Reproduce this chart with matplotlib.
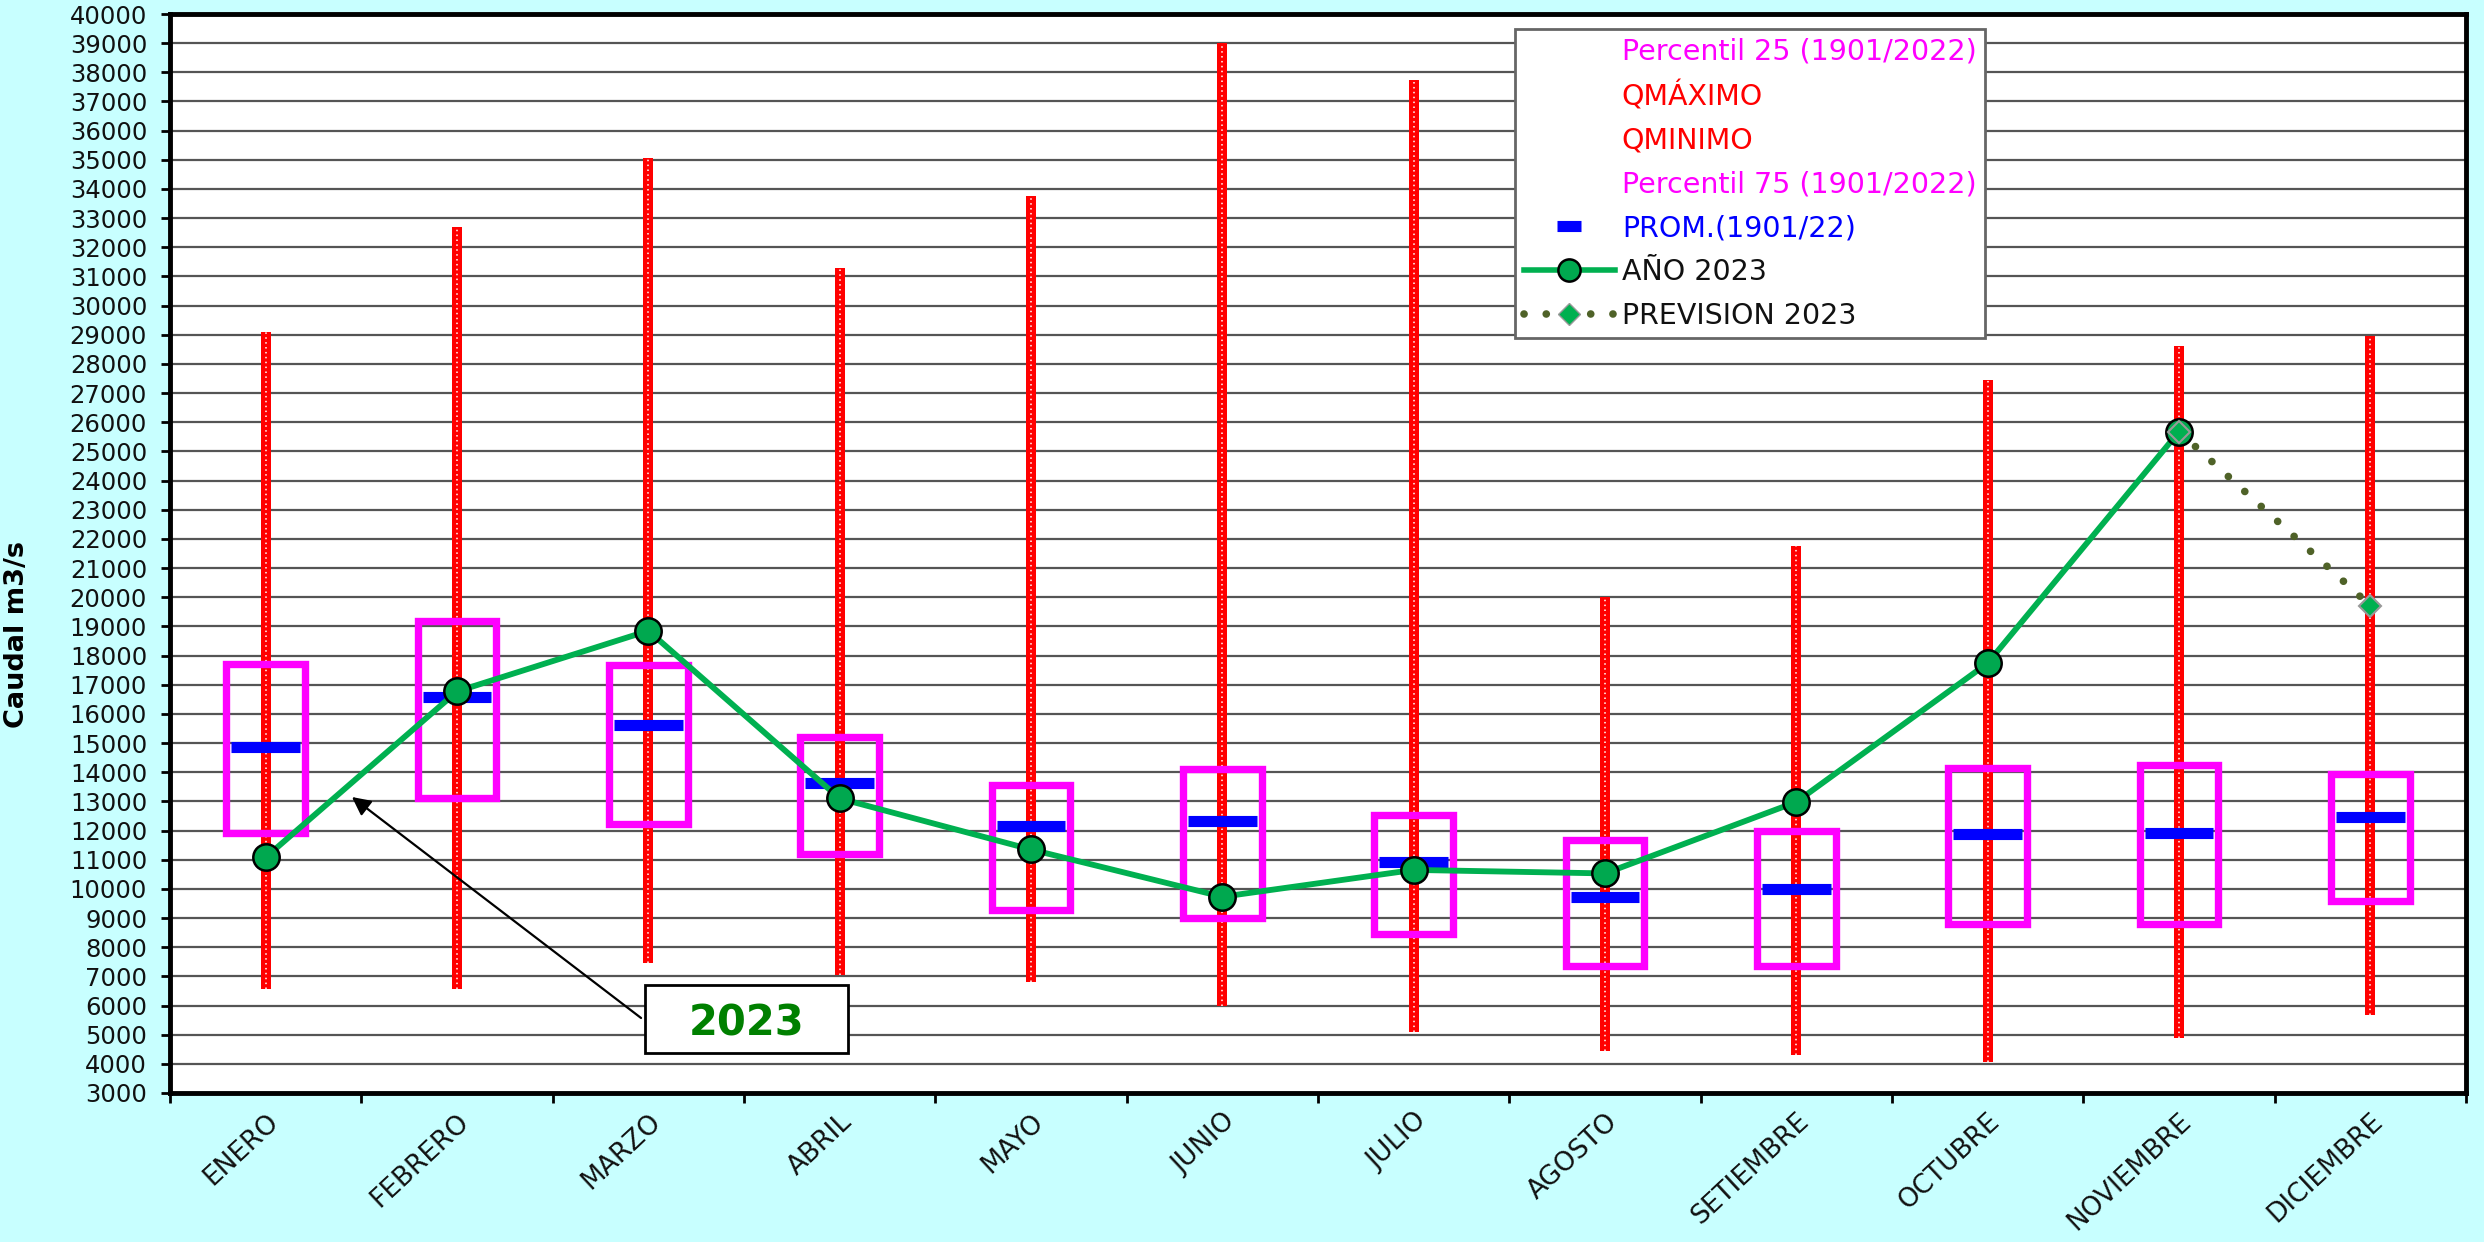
import numpy as np
import matplotlib
matplotlib.use('Agg')
import matplotlib.pyplot as plt
from matplotlib.patches import Rectangle
from matplotlib.lines import Line2D

plt.rcParams['font.family'] = ['DejaVu Sans']

# monthly flow statistics (m3/s)
meses = ['ENERO', 'FEBRERO', 'MARZO', 'ABRIL', 'MAYO', 'JUNIO', 'JULIO',
         'AGOSTO', 'SETIEMBRE', 'OCTUBRE', 'NOVIEMBRE', 'DICIEMBRE']
q_max = [29100, 32700, 35050, 31300, 33770, 38990, 37740, 20000, 21760, 27450, 28600, 28960]
q_min = [6570, 6570, 7470, 7040, 6820, 5970, 5100, 4440, 4290, 4060, 4900, 5680]
p25 = [11930, 13130, 12240, 11200, 9270, 9000, 8450, 7370, 7370, 8780, 8810, 9570]
p75 = [17720, 19180, 17660, 15200, 13560, 14100, 12520, 11690, 12000, 14130, 14240, 13940]
prom = [14860, 16590, 15630, 13640, 12170, 12330, 10920, 9710, 10000, 11880, 11900, 12450]
anio_2023 = [11080, 16770, 18850, 13100, 11350, 9730, 10650, 10530, 12980, 17740, 25680]
prev_meses = [10, 11]
prevision_2023 = [25680, 19710]

y_ticks = np.arange(3000, 40001, 1000)

bg = '#C8FFFF'
fig = plt.figure(figsize=[24.84, 12.42], dpi=100, facecolor=bg)
ax = fig.add_axes([170/2484, 1-1093/1242, (2466-170)/2484, (1093-14)/1242])
ax.set_facecolor('white')

x = np.arange(len(meses))

# horizontal grid
for yv in y_ticks[1:-1]:
    ax.axhline(yv, color='#555555', lw=1.6, zorder=1)

# max/min range bars (red with a fine white dotted core)
ax.vlines(x, q_min, q_max, color='#FF0000', lw=7.2, zorder=2)
ax.vlines(x, q_min, q_max, color='white', lw=1.1, linestyles=(0, (1, 2.2)), zorder=2.1)

# percentile boxes
bw = 0.41
for xi, lo, hi in zip(x, p25, p75):
    ax.add_patch(Rectangle((xi - bw/2, lo), bw, hi - lo, fill=False,
                           edgecolor='#FF00FF', lw=5.3, joinstyle='miter', zorder=3))

# long-term mean
ax.hlines(prom, x - 0.18, x + 0.18, color='#0000FF', lw=8, capstyle='butt', zorder=4)

# 2023 observed and forecast
ax.plot(x[:len(anio_2023)], anio_2023, color='#00B050', lw=4.2, marker='o', markersize=19,
        markerfacecolor='#00A84F', markeredgecolor='black', markeredgewidth=1.8, zorder=5)
ax.plot(prev_meses, prevision_2023, color='#4F6228', lw=5.5, linestyle=(0, (0.01, 2.9)),
        dash_capstyle='round', zorder=6)
ax.plot(prev_meses, prevision_2023, linestyle='none', marker='D', markersize=11,
        markerfacecolor='#00B050', markeredgecolor='#999999', markeredgewidth=1.5, zorder=7)

ax.set_xlim(-0.5, 11.5)
ax.set_ylim(3000, 40000)
ax.set_yticks(y_ticks)
ax.tick_params(axis='y', direction='out', length=6.5, width=2, labelsize=17.5,
               labelcolor='#111111', pad=10)
ax.set_xticks(np.arange(-0.5, 12, 1))
ax.set_xticklabels([])
ax.tick_params(axis='x', which='major', direction='out', length=7, width=2)
ax.set_xticks(x, meses, minor=True)
ax.tick_params(axis='x', which='minor', length=0, labelsize=19, labelcolor='#111111', pad=11)
for lbl in ax.get_xticklabels(minor=True):
    lbl.set_rotation(43)
    lbl.set_ha('right')
    lbl.set_va('top')
    lbl.set_rotation_mode('anchor')

for s in ax.spines.values():
    s.set_linewidth(3.5)
    s.set_color('black')

ax.set_ylabel('Caudal m3/s', fontsize=19.5, fontweight='bold')
ax.yaxis.set_label_coords(-0.061, 0.425)

# "2023" callout
ax.add_patch(Rectangle((1.983, 4372), 3.044 - 1.983, 6704 - 4372, facecolor='white',
                       edgecolor='black', lw=2, zorder=8))
ax.text((1.983 + 3.044)/2, (4372 + 6704)/2, '2023', color='#008000', fontsize=30,
        fontweight='bold', ha='center', va='center_baseline', zorder=9)
ax.annotate('', xy=(0.451, 13150), xytext=(1.962, 5572),
            arrowprops=dict(arrowstyle='-|>', color='black', lw=1.6, mutation_scale=28,
                            shrinkA=0, shrinkB=0), zorder=9)

# legend
blank = Line2D([], [], linestyle='none')
handles = [
    blank, blank, blank, blank,
    Line2D([], [], linestyle='none', marker='_', markersize=17, markeredgewidth=8,
           color='#0000FF'),
    Line2D([], [], color='#00B050', lw=4, marker='o', markersize=16,
           markerfacecolor='#00A84F', markeredgecolor='black', markeredgewidth=1.8),
    Line2D([], [], color='#4F6228', lw=5.5, linestyle=(0, (0.01, 2.9)), dash_capstyle='round',
           marker='D', markersize=11, markerfacecolor='#00B050', markeredgecolor='#999999'),
]
labels = ['Percentil 25 (1901/2022)', 'QMÁXIMO', 'QMINIMO', 'Percentil 75 (1901/2022)',
          'PROM.(1901/22)', 'AÑO 2023', 'PREVISION 2023']
label_colors = ['#FF00FF', '#FF0000', '#FF0000', '#FF00FF', '#0000FF', '#111111', '#111111']
leg = ax.legend(handles, labels, loc='upper left', bbox_to_anchor=(1515/2484, 1-29/1242),
                bbox_transform=fig.transFigure, fontsize=20.5, labelcolor=label_colors,
                handlelength=3.2, handletextpad=0.25, borderpad=0.3, labelspacing=0.55,
                borderaxespad=0, fancybox=False, framealpha=1, edgecolor='#666666')
leg.get_frame().set_linewidth(2)
leg.set_zorder(10)

fig.savefig('out.png', dpi=100, facecolor=bg)
